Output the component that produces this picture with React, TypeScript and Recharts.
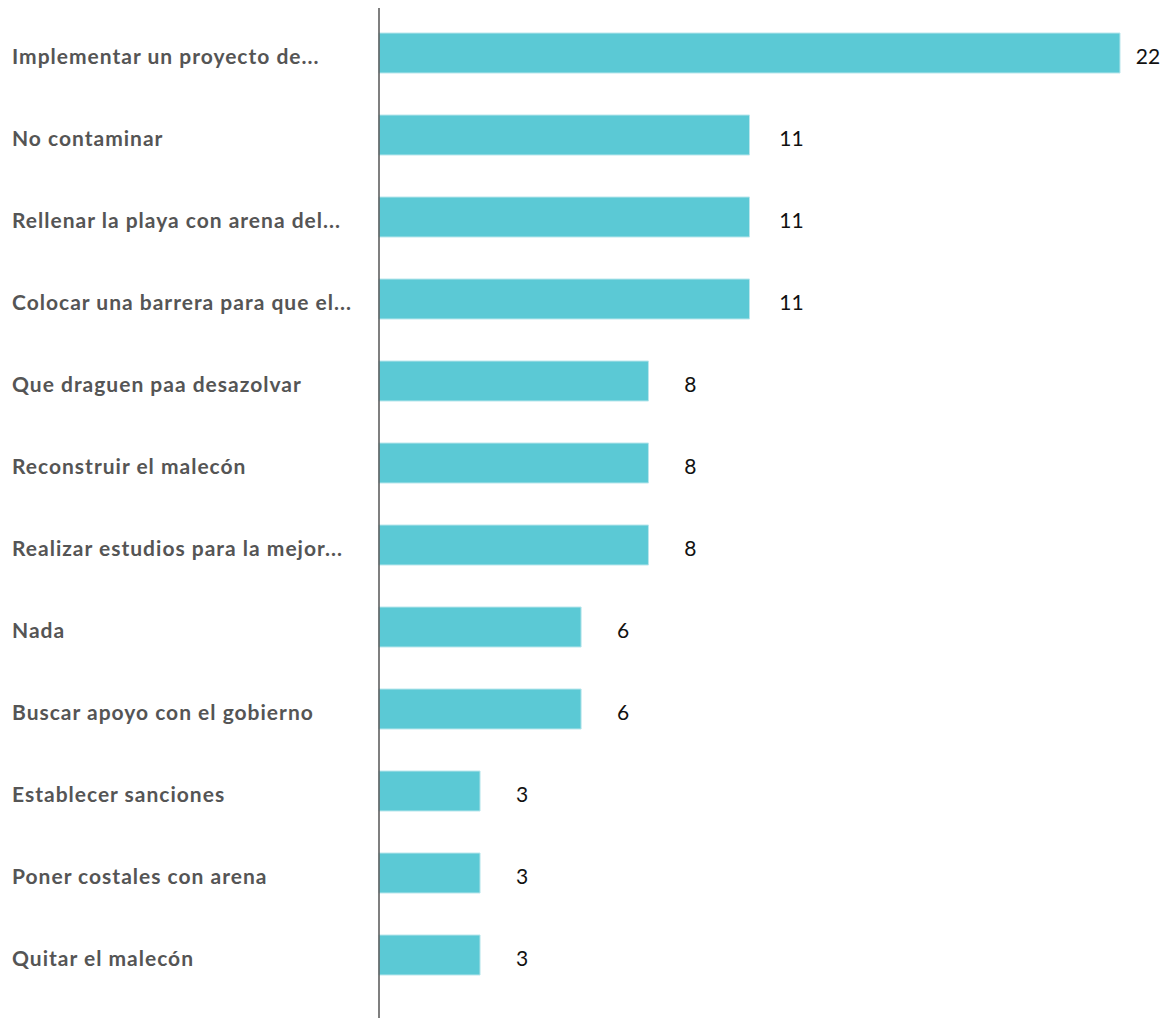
import { Bar, BarChart, LabelList, XAxis, YAxis } from 'recharts';

const categories = [
  'Implementar un proyecto de...',
  'No contaminar',
  'Rellenar la playa con arena del...',
  'Colocar una barrera para que el...',
  'Que draguen paa desazolvar',
  'Reconstruir el malecón',
  'Realizar estudios para la mejor...',
  'Nada',
  'Buscar apoyo con el gobierno',
  'Establecer sanciones',
  'Poner costales con arena',
  'Quitar el malecón'
];

const values = [22, 11, 11, 11, 8, 8, 8, 6, 6, 3, 3, 3];

const data = categories.map((name, i) => ({ name, value: values[i] }));

const CategoryTick = (props: any) => {
  const { y, payload } = props;
  return (
    <text
      x={4}
      y={y}
      dy={11}
      textAnchor="start"
      fill="#555555"
      fontFamily="Lato, sans-serif"
      fontWeight={700}
      fontSize={21}
      letterSpacing={1}
    >
      {payload.value}
    </text>
  );
};

const ValueLabel = (props: any) => {
  const { x, y, width, height, value } = props;
  const cx = Math.min(x + width + 42, 1140);
  return (
    <text
      x={cx}
      y={y + height / 2}
      dy={11}
      textAnchor="middle"
      fill="#111111"
      fontFamily="Lato, sans-serif"
      fontSize={21}
    >
      {value}
    </text>
  );
};

export default function App() {
  return (
    <div style={{ width: 1161, height: 1030 }}>
      <BarChart
        width={1161}
        height={1030}
        data={data}
        layout="vertical"
        margin={{ top: 0, right: 49, bottom: 0, left: 0 }}
      >
        <XAxis type="number" domain={[0, 22]} hide />
        <YAxis
          type="category"
          dataKey="name"
          width={371}
          padding={{ top: 4, bottom: 42 }}
          axisLine={{ stroke: '#555555', strokeWidth: 1.5 }}
          tickLine={false}
          tick={<CategoryTick />}
          interval={0}
        />
        <Bar
          dataKey="value"
          fill="#5BC9D5"
          stroke="#b9e6ec"
          strokeWidth={1}
          barSize={40}
          isAnimationActive={false}
        >
          <LabelList dataKey="value" content={<ValueLabel />} />
        </Bar>
      </BarChart>
    </div>
  );
}
